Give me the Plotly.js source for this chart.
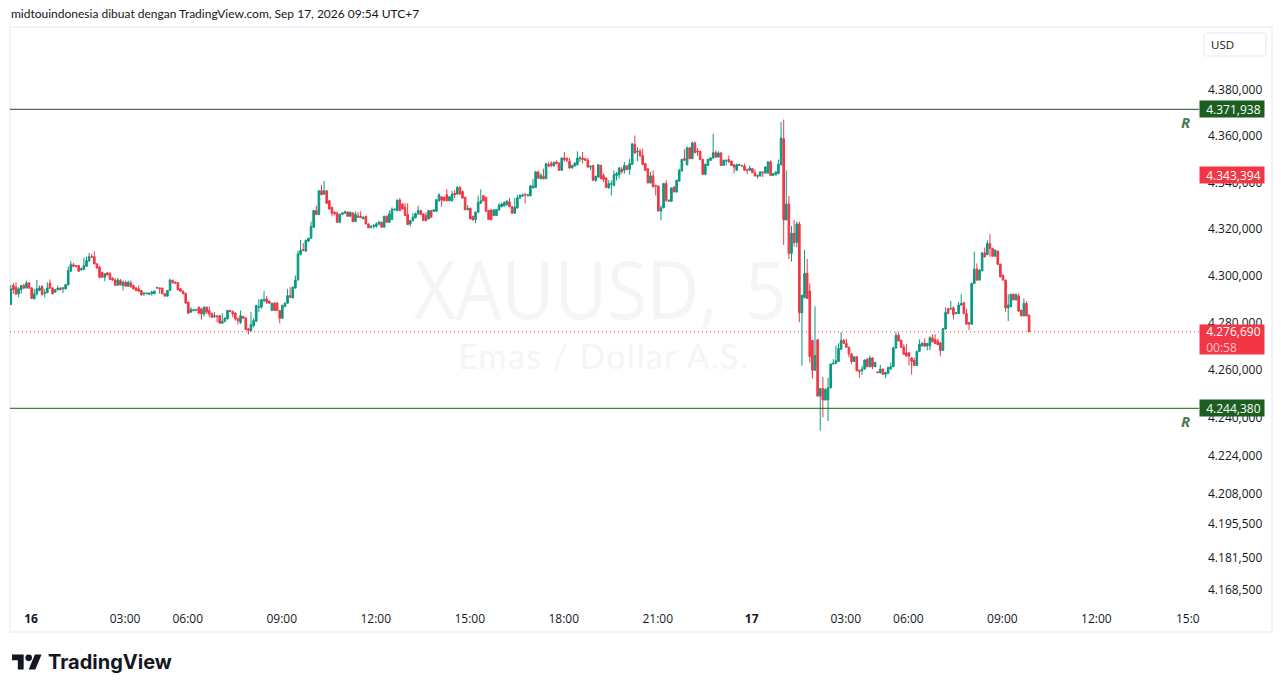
<!DOCTYPE html>
<html>
<head>
<meta charset="utf-8">
<script src="https://cdn.plot.ly/plotly-3.0.1.min.js"></script>
<style>
	html, body { margin: 0; padding: 0; background: #fff; overflow: hidden; }
	#frame { position: absolute; left: 9px; top: 26px; width: 1260px; height: 603px; border: 2px solid #f0f3fa; }
	#usdBox { position: absolute; left: 1203px; top: 32px; width: 62px; height: 23px; border: 1px solid #f0f3fa; border-radius: 4px; box-shadow: 0 0 0 1px #f0f3fa inset; }
	.mark { position: absolute; color: #f5f5f5; white-space: nowrap; transform-origin: left center; }
	#markSymbol { left: 414px; top: 233px; font-family: "Open Sans", sans-serif; font-size: 80px; line-height: 110px; word-spacing: 9px; transform: scaleX(0.905); }
	#markName { left: 458px; top: 333px; font-family: Lato, sans-serif; font-size: 34px; line-height: 46px; letter-spacing: 1.4px; }
	#logo { position: absolute; left: 12px; top: 654px; }
	#chart { position: absolute; left: 0; top: 0; width: 1281px; height: 692px; }
</style>
</head>
<body>
<div id="frame"></div>
<div id="usdBox"></div>
<div class="mark" id="markSymbol">XAUUSD, 5</div>
<div class="mark" id="markName">Emas / Dollar A.S.</div>
<svg id="logo" width="30" height="16" viewBox="0 4 36 18"><path fill="#131722" d="M14 22H7V11H0V4h14v18zM28 22h-8l7.5-18h8L28 22z"/><circle fill="#131722" cx="20" cy="8" r="4"/></svg>
<div id="chart"></div>
<script>
// XAUUSD 5 minute candles
var opens = [
4288.2,4296.3,4295.6,4292.8,4294.6,4296.3,4295.2,4297.4,4295.3,4290.8,
4292.8,4294.2,4296,4293,4293.3,4297.3,4295.3,4293.5,4294.5,4295.2,
4295,4294.9,4296.6,4302.4,4305.1,4304.8,4304.8,4303,4303.1,4304.5,
4306.7,4308.6,4308.6,4305.5,4304.1,4302,4299.8,4301.7,4301.3,4299.4,
4298.7,4296.4,4298.4,4296.3,4297.7,4296,4297.4,4296.3,4295.3,4294.9,
4294.2,4292.8,4292.8,4292.5,4292.8,4292.8,4295.2,4295.3,4295.2,4292.8,
4291.8,4294.2,4298.4,4297.7,4297.6,4294.9,4293.9,4293,4289.2,4285,
4285.7,4285.8,4287.1,4286.4,4284.2,4287.1,4285.7,4284.5,4283.1,4283.4,
4283.5,4280.3,4281.1,4282.1,4285.7,4285.2,4284.5,4282.1,4280.7,4283.1,
4282.5,4277.9,4277.2,4279.3,4281.1,4287.1,4287.1,4289.9,4290.6,4289.6,
4285.7,4288.8,4288.9,4285.7,4282.4,4287.4,4288.8,4292,4291,4295.3,4298.7,
4309.6,4311.6,4311,4315.2,4316.5,4321.2,4328.3,4326.6,4336.8,4335.4,
4336.8,4332.5,4329.7,4327.6,4327.2,4323.3,4326.7,4327.2,4327.7,4325.9,
4327.3,4323.6,4326,4325.9,4324.8,4325.9,4322.6,4321.2,4321.5,4321.6,
4322.6,4323.3,4321.2,4325.9,4323.3,4324.5,4328.6,4328.3,4332.8,4331.1,
4329.7,4326.6,4322.6,4324,4325.2,4326.9,4328.3,4326.9,4326.2,4324.7,
4328.3,4328,4328,4332.5,4334.2,4334,4335.1,4332.5,4332.5,4335.7,
4335.4,4338.2,4336.5,4334,4328.7,4329.3,4325.9,4324.5,4327.6,4331.5,
4334.7,4334,4328.3,4328.6,4326.2,4326.2,4328.6,4330,4330.4,4330.8,
4332.1,4330,4327.2,4329.4,4333.7,4334.5,4335.4,4334.7,4334.7,4338,
4338.2,4344.9,
4342,4343,4342,4348,4348.5,4347.5,4349.2,4348.7,4345.6,4350.9,
4350.6,4349.5,4346.6,4347.5,4348,4350.6,4350.9,4350.6,4349.9,4347,
4347.7,4341.3,4342.7,4347.7,4343.4,4342.3,4338.1,4339.6,4339.1,4343.4,
4343.7,4346,4345.6,4347.5,4346,4348.2,4356.8,4353.5,4353.8,4352,
4348.5,4346.3,4340.2,4343.2,4339.1,4338.8,4328.1,4329.5,4339.9,4332.4,
4332.3,4338.4,4336.3,4341,4345.3,4350.6,4348,4355.3,4350.6,4357.4,
4353.9,4353.8,4350.3,4343.9,4347.7,4349.9,4350.9,4353.2,4351.3,4353.1,
4347.7,4349.6,4350.3,4349.5,4348,4345.6,4347.7,4347.7,4347.5,4345.9,
4345.6,4346.3,4344.6,4343,4343.2,4344.9,4344.4,4344.4,4349.2,4343.4,
4343.7,4344.2,4348,
4359.2,4324.3,4331.1,4310,4318.6,4314.6,4322.6,4284.7,4291.2,4301.5,
4294,4273,4260.4,4273.3,4249.5,4252.7,4247.9,4247.9,4253,4263,
4263.3,4264.1,4269.3,4273,4271.8,4270.1,4267.3,4264.1,4266.1,4260.4,
4260.2,4260.9,4265.1,4261.9,4265.6,4261.9,4259.7,4259.4,4260.9,4258.7,
4259,4260.9,4261.9,4269.8,
4275.2,4273.1,4270.2,4267.7,4267.8,4265.6,4264.6,4262.4,4268.4,4270.7,
4271.9,4270.7,4270.7,4274.1,4273.4,4272.7,4271.9,4268.8,4277.8,4286.5,
4286.3,4286.8,4284.4,4284.4,4288,4289,4284.4,4280.6,4279.9,4297.2,
4303.3,4298.6,4302.6,4310.2,4309.5,4314.2,4312.1,4308.8,4310.9,4305.4,
4300.7,4298.6,4286.8,4287.3,4292.6,4290.2,4291.8,4285.8,4283.4,4288.7,
4283.7];
var highs = [
4296.6,4297.4,4297.7,4295.6,4296.6,4297,4298.4,4297.7,4295.6,4294.9,
4298.7,4296.3,4296.3,4294.9,4297.7,4298.9,4295.6,4294.9,4296.3,4295.6,
4295.6,4297,4304.4,4306.7,4305.9,4305.1,4304.8,4304,4308.1,4308.6,
4310.2,4309.8,4310.8,4305.9,4304.8,4302,4301.6,4302,4302,4299.8,
4299.4,4299.6,4299.1,4298.4,4298.4,4298.4,4298.4,4296.6,4295.6,4296.3,
4294.2,4293.5,4293.3,4293.5,4294.2,4294.2,4295.6,4295.4,4295.4,4293,
4294.2,4298.9,4298.9,4298.1,4297.6,4295.2,4294.2,4293.2,4289.4,4287.1,
4286.4,4286.3,4287.4,4286.6,4287.4,4287.4,4287.4,4284.8,4285,4283.7,
4283.7,4284.5,4282.8,4286,4286,4285.7,4285,4282.8,4285.7,4283.5,
4283,4278.2,4285,4282.5,4288.1,4290.6,4290.6,4293.9,4291.8,4290,
4288.8,4289.2,4289.2,4285.9,4288.2,4289.2,4294.9,4295.6,4295.9,4300.6,4311.2,
4315.8,4314.4,4316,4316.6,4323.6,4328.6,4330.4,4337,4339.3,4341,
4337,4332.8,4329.9,4327.9,4328,4327,4327.6,4328.3,4327.9,4327.9,
4327.6,4328,4327.6,4328,4325.9,4326,4322.9,4321.8,4322.6,4323.3,
4324,4323.6,4326,4326.2,4328.3,4329.7,4329.2,4333.1,4333.7,4331.4,
4331.4,4331.5,4324.4,4327.3,4327.5,4330.4,4328.6,4327,4327.6,4328.6,
4328.6,4329,4333.3,4335.7,4334.4,4334.3,4337.5,4334.6,4336.8,4337.1,
4338.9,4338.9,4337,4334.2,4330.7,4329.6,4326,4327.9,4334.7,4337.5,
4335.1,4334.2,4328.6,4328.9,4329,4329,4331.4,4331.7,4332.3,4332.8,
4333.7,4330.3,4333.7,4335.1,4335.4,4335.6,4335.6,4335.4,4339.3,4341.8,
4345.3,4345.5,
4344.2,4346.3,4348.7,4349.2,4349.5,4349.5,4349.8,4349,4351.2,4353.5,
4351.3,4350.9,4348,4349,4353.8,4351.7,4353.5,4350.9,4350.9,4347.7,
4348,4343.3,4348.2,4348,4344.2,4342.6,4341.3,4341.3,4345.6,4344.9,
4347,4347,4349.2,4347.7,4350.6,4357.3,4360.6,4355.6,4354.9,4354.9,
4348.7,4346.5,4344.9,4345.6,4339.4,4339,4330.5,4340.2,4341.3,4333,
4338.2,4338.7,4341.6,4346.3,4350.5,4354.6,4356,4355.6,4358.1,4358.1,
4355.3,4354.1,4350.6,4348.5,4350.6,4351.3,4361.4,4354.2,4353.8,4353.4,
4350.2,4350.2,4352,4349.7,4348.2,4348.5,4348.5,4348,4348.5,4346.1,
4347.7,4346.5,4345.9,4343.7,4345.2,4345.1,4347.3,4349.5,4349.9,4344.5,
4345.2,4350.2,4366.4,
4367.5,4345.6,4334.5,4321.7,4324.3,4323.6,4323.6,4292.2,4311.5,4307.6,
4297.2,4273.2,4287.5,4273.5,4253,4257.6,4252.8,4257.3,4263.3,4265.1,
4270.8,4271.8,4276.5,4273.7,4273.7,4270.4,4267.5,4266.4,4266.3,4260.6,
4262.3,4265,4265.4,4266.6,4265.8,4264,4259.9,4262.7,4261.1,4259.7,
4261.9,4263.7,4270.4,4276.5,
4276.3,4273.3,4271.4,4271.4,4268,4266,4265.7,4268.6,4273.4,4272.4,
4273.8,4272,4274.8,4275.6,4275.6,4273.8,4272.4,4278.2,4287,4286.8,
4289.7,4287.5,4285,4289.4,4292.6,4289.4,4286.5,4280.8,4297.5,4310.7,
4305.7,4303.1,4310.7,4312.5,4315.6,4318.2,4312.4,4311.6,4311.2,4305.6,
4300.9,4298.8,4292.6,4292.8,4292.8,4292.9,4292.9,4286,4290.8,4289.7,
4284];
var lows = [
4288.2,4292.8,4292.5,4291.3,4292.8,4294.9,4295.2,4294.9,4290.6,4290.3,
4292,4293.9,4292,4291.3,4293,4294.9,4292.5,4293.2,4294.2,4294.2,
4293,4294.6,4296.3,4302.3,4304.1,4304.1,4302,4302.5,4303.1,4304.4,
4306.6,4308.1,4305.5,4303.4,4299.4,4299.6,4298.1,4300.6,4298.9,4298.4,
4296.3,4296.3,4296.3,4294.2,4295.9,4295.7,4295.3,4294.6,4293.9,4293.5,
4292,4291.8,4292.5,4292.2,4292,4292.8,4295,4292.8,4292.5,4291.6,
4291.6,4294.2,4297,4297,4294.2,4293.6,4292.6,4288.5,4284.2,4284.7,
4285.4,4285.5,4284.5,4281.8,4283.1,4284.2,4282.8,4282.5,4282.5,4280.7,
4280.3,4280,4280.7,4282,4285,4282.8,4281.4,4279.7,4280,4282.1,
4277.6,4275.5,4276.7,4278.6,4281,4285,4286.4,4289.2,4288.5,4288.5,
4285.7,4285.7,4285.7,4280.3,4282.2,4287.1,4288.5,4290.9,4290.9,4294.9,4298.4,
4309.1,4311,4310.6,4314.9,4316.2,4321,4326.6,4326.6,4335.1,4335.1,
4331.1,4328.6,4325.8,4326.2,4323,4322.9,4326.4,4326.9,4325.6,4325.5,
4323.3,4323.5,4325.3,4325.2,4324.6,4322.4,4320.9,4320.6,4320.6,4320.9,
4321.9,4321,4321,4323.3,4323,4324.4,4328.4,4328,4328,4328.7,
4326,4322.3,4321.5,4323.7,4325,4326.6,4326.4,4323.9,4323.7,4324.5,
4325.2,4327.7,4327.7,4332.2,4330,4332.3,4332.3,4332.3,4332.2,4333.7,
4335.1,4335.1,4333.4,4328.4,4328.3,4324.7,4324,4322.9,4327.3,4331.3,
4332.3,4327.9,4324.3,4324,4325.9,4326,4328.3,4329.7,4330,4330.5,
4329.7,4327,4327,4329.1,4333.4,4334.2,4331.4,4334.4,4334.4,4337.9,
4338,4342,
4341.7,4341.7,4341.7,4347,4347,4347.2,4348.2,4345.4,4345.4,4349.2,
4349.2,4346.3,4346.4,4347.2,4347.7,4349.2,4348.5,4349.7,4346.7,4345.6,
4341,4340.6,4342.5,4341.8,4340.6,4338,4337.7,4334.8,4338.8,4341.3,
4342,4344.2,4344.2,4345.8,4343.7,4348,4353,4349.5,4351.5,4347.7,
4345.3,4340,4339.9,4338.4,4334.8,4327.9,4324.1,4329.3,4332,4332,
4332,4336.1,4336,4340.6,4345.1,4349.7,4347.7,4350.4,4350.4,4353,
4351.8,4350,4343.7,4343.4,4347.5,4349.6,4350.6,4351,4351,4347.5,
4347.5,4347.7,4349,4347.5,4344.4,4345.4,4347.5,4347.2,4345.4,4343.9,
4345.4,4344.4,4343,4342,4342.9,4342.7,4344.2,4344.2,4343.2,4343.1,
4343.4,4343.9,4347.7,
4313.6,4324.3,4307.6,4306.5,4312.9,4312.6,4280.7,4262.3,4290.8,4290.6,
4263.7,4256.9,4260.1,4249.3,4235,4240.5,4247.6,4239,4252.8,4262.8,
4263,4263.9,4269,4271.6,4269.9,4265.9,4263,4263.9,4260,4257.3,
4258.4,4260.7,4261.7,4261.6,4260.9,4261.7,4259.2,4259,4258.5,4257.3,
4258.8,4260.7,4261.7,4269.4,
4272.6,4269.8,4266.9,4266.2,4262.4,4258.6,4262.2,4262.2,4268.2,4270.5,
4270.3,4268.8,4268.8,4272.2,4271.5,4271,4266.3,4268.6,4277.6,4284.2,
4286,4281.9,4284.2,4284.2,4287.8,4284.2,4279.7,4277.3,4279.7,4296.9,
4298.4,4298.4,4302.4,4308.3,4309.2,4308.5,4308.6,4308.6,4305.1,4299.8,
4298.4,4285.1,4281.2,4287.1,4290,4290,4285.2,4283.2,4283.2,4283.2,
4276.69];
var closes = [
4294.9,4294.6,4292.6,4294.9,4296.3,4295.2,4297.4,4295.2,4290.8,4292.8,
4294.9,4295.3,4292.5,4293.3,4295.3,4295.2,4292.8,4294.5,4295.2,4294.6,
4295.3,4296.6,4302.7,4305.2,4304.5,4304.4,4302.4,4303.4,4304.8,4306.9,
4308.6,4308.4,4305.5,4303.8,4299.8,4299.8,4301.3,4300.8,4298.9,4298.6,
4296.4,4298.7,4296.6,4297.7,4296,4297.7,4295.9,4294.9,4294.2,4293.9,
4292.3,4293,4293,4293,4293.5,4293.9,4295.5,4295,4292.8,4291.8,
4294.2,4298.7,4297.6,4297.4,4294.5,4293.9,4292.8,4288.8,4284.5,4286.1,
4286,4286,4284.5,4284.2,4287.1,4285,4284.2,4282.8,4283.5,4283.1,
4280.3,4281.1,4282.4,4285.7,4285.2,4284.2,4282.1,4281.4,4283.5,4282.4,
4277.6,4277.2,4279.7,4281.4,4287.8,4287.4,4290.2,4290.4,4289.2,4288.8,
4288.8,4285.7,4285.7,4282.4,4287.8,4288.8,4292,4291.3,4295.6,4298.7,4309.8,
4311.3,4311.2,4315.5,4316.5,4321.5,4328.3,4326.6,4336.8,4335.1,4336.8,
4331.4,4329,4327.2,4326.9,4323.3,4326.6,4327.3,4327.7,4325.9,4327.6,
4323.6,4326.7,4325.5,4325.3,4325.4,4322.6,4320.9,4321.6,4321.8,4322.6,
4323.3,4321.2,4325.9,4323.3,4326.9,4328.9,4328.9,4332.8,4328.3,4329,
4326.2,4322.3,4324,4325.5,4326.9,4328.3,4326.6,4324,4324,4328.3,
4325.5,4328.6,4333,4335.1,4332.8,4332.5,4332.5,4334.2,4335.4,4335.1,
4338.2,4335.4,4333.7,4328.7,4329.3,4324.7,4324.3,4327.6,4331.8,4332.5,
4332.5,4328,4324.5,4324.5,4328.6,4328.7,4330.7,4331.1,4331.8,4332.3,
4330,4327.2,4329.7,4333.7,4334.7,4335,4335.1,4335.1,4338.9,4338.9,
4344.9,4342.2,
4343.4,4342,4348.5,4347.5,4347.7,4348.9,4348.5,4345.6,4350.9,4350.3,
4349.9,4346.6,4347.7,4348.7,4350.9,4350.9,4350.3,4349.9,4347,4347.3,
4341.3,4343,4348,4342,4341.7,4338.1,4339.8,4339.8,4343.7,4344.2,
4346.6,4344.9,4347.7,4346,4348.5,4357,4353,4353.8,4351.8,4348.2,
4345.6,4340.2,4343.2,4338.4,4338.8,4328.1,4329.5,4339.9,4332.7,4332.7,
4338,4336.3,4341.3,4345.6,4350.3,4349.9,4355.2,4350.6,4357.4,4353.2,
4353.5,4350.2,4343.9,4348.2,4350.3,4350.9,4353.2,4351.3,4353.1,4347.7,
4349.9,4349.9,4349.2,4347.7,4347,4348,4348,4347.5,4345.6,4345.6,
4346.6,4344.6,4343.2,4343.4,4344.9,4344.6,4347,4349.2,4343.4,4344.2,
4344.9,4348.2,4359.5,
4324.3,4331.1,4310,4318.6,4314.6,4322.6,4284.7,4292.2,4301.5,4290.8,
4266.1,4260.4,4266.6,4249.5,4252.7,4247.9,4252.3,4253,4263,4263.3,
4264.4,4269.6,4273,4271.8,4270.1,4267.3,4264.1,4266.1,4260.2,4259.9,
4260.9,4264.7,4261.9,4265.6,4261.9,4263.7,4259.4,4260.9,4258.7,4259.4,
4261.6,4261.9,4269.8,4275.1,
4272.8,4270,4267.1,4266.4,4266.4,4264.1,4262.4,4268.4,4271.4,4271.7,
4270.5,4271.7,4274.1,4272.4,4271.7,4271.2,4268.8,4278,4284.8,4284.4,
4286.5,4284,4284.7,4288,4288.7,4284.4,4279.9,4279.9,4297.2,4303.3,
4298.6,4302.9,4310.2,4308.5,4314.2,4312.1,4308.8,4311.4,4305.3,4300,
4298.6,4286.8,4288,4292.6,4290.2,4292.5,4285.4,4283.4,4288.7,4283.4,
4276.69];

// bar numbers: 16 falls on bar 0
var barIndex = opens.map(function(o, n){ return n - 7; });
var xTickBars = [0,36,60,96,132,168,204,240,276,312,336,372,408,443];
var xTickLabels = ['<b>16</b>','03:00','06:00','09:00','12:00','15:00','18:00','21:00','<b>17</b>','03:00','06:00','09:00','12:00','15:0'];
var priceTicks = [4380,4360,4340,4320,4300,4280,4260,4240,4224,4208,4195.5,4181.5,4168.5];
var priceLabels = ['4.380,000','4.360,000','4.340,000','4.320,000','4.300,000','4.280,000','4.260,000','4.240,000','4.224,000','4.208,000','4.195,500','4.181,500','4.168,500'];

var resistanceTop = 4371.938;
var resistanceBottom = 4244.380;
var prevClose = 4343.394;
var lastPrice = 4276.690;

var UP = '#089981', DOWN = '#f23645', LEVEL = '#1b5e20';
var FONT = '"Open Sans", sans-serif';

function badge(price, text, color, h){
	return {
		xref:'paper', x:1, xanchor:'left',
		yref:'y', y:Math.log10(price), yanchor:'middle',
		text:'\u00a0\u00a0' + text, showarrow:false, width:64, height:h, align:'left',
		bgcolor:color, borderpad:0,
		font:{family:FONT, size:12, color:'#fff'}
	};
}

var data = [{
	type:'candlestick',
	x:barIndex, open:opens, high:highs, low:lows, close:closes,
	whiskerwidth:0,
	increasing:{line:{color:UP, width:1}, fillcolor:UP},
	decreasing:{line:{color:DOWN, width:1}, fillcolor:DOWN},
	hoverinfo:'skip'
}];

var lastBadge = badge(lastPrice, '4.276,690<br>\u00a0\u00a0<span style="color:#fbc5ca">00:58</span>', DOWN, 29);
lastBadge.yanchor = 'top';
lastBadge.yshift = 8;

var layout = {
	width:1281, height:692,
	margin:{l:10, r:82, t:27, b:87, pad:0},
	paper_bgcolor:'rgba(0,0,0,0)', plot_bgcolor:'rgba(0,0,0,0)',
	showlegend:false, dragmode:false, boxgap:0.12,
	font:{family:FONT, size:12, color:'#131722'},
	xaxis:{
		type:'linear', range:[-7.3, 448.06],
		rangeslider:{visible:false},
		tickmode:'array', tickvals:xTickBars, ticktext:xTickLabels,
		showgrid:false, zeroline:false, showline:false, ticks:'',
		ticklabelstandoff:5, ticklabelshift:2, tickfont:{family:FONT, size:12, color:'#131722'}
	},
	yaxis:{
		type:'log', side:'right', range:[3.619354, 3.644214],
		tickmode:'array', tickvals:priceTicks, ticktext:priceLabels,
		showgrid:false, zeroline:false, showline:false, ticks:'',
		ticklabelstandoff:8, ticklabelshift:-1, tickfont:{family:FONT, size:12, color:'#131722'}
	},
	shapes:[
		{type:'line', xref:'paper', x0:0, x1:1, yref:'y', y0:resistanceTop, y1:resistanceTop, line:{color:'#2a4a2c', width:1}},
		{type:'line', xref:'paper', x0:0, x1:1, yref:'y', y0:resistanceBottom, y1:resistanceBottom, line:{color:LEVEL, width:1}},
		{type:'line', xref:'paper', x0:0, x1:1, yref:'y', y0:lastPrice, y1:lastPrice, line:{color:DOWN, width:1, dash:'1px,3px'}}
	],
	annotations:[
		{xref:'paper', yref:'paper', x:-1/1189, y:1 + 13/578, xanchor:'left', yanchor:'middle', showarrow:false,
			text:'midtouindonesia dibuat dengan TradingView.com, Sep 17, 2026 09:54 UTC+7', font:{family:'Lato, sans-serif', size:12, color:'#131722'}},
		{xref:'paper', yref:'paper', x:36/1189, y:-57/578, xanchor:'left', yanchor:'middle', showarrow:false,
			text:'<b>TradingView</b>', font:{family:'Inter, sans-serif', size:20, color:'#131722'}},
		{xref:'paper', yref:'paper', x:1 + 10/1189, y:1 - 17/578, xanchor:'left', yanchor:'middle', showarrow:false,
			text:'USD', font:{family:FONT, size:11.5, color:'#131722'}},
		{xref:'paper', x:1175/1189, xanchor:'center', yref:'y', y:Math.log10(resistanceTop), yshift:-13, showarrow:false,
			text:'<b><i>R</i></b>', font:{family:FONT, size:15, color:'#4a7d50'}},
		{xref:'paper', x:1175/1189, xanchor:'center', yref:'y', y:Math.log10(resistanceBottom), yshift:-13, showarrow:false,
			text:'<b><i>R</i></b>', font:{family:FONT, size:15, color:'#4a7d50'}},
		badge(resistanceTop, '4.371,938', LEVEL, 16),
		badge(resistanceBottom, '4.244,380', LEVEL, 16),
		badge(prevClose, '4.343,394', DOWN, 16),
		lastBadge
	]
};

Plotly.newPlot('chart', data, layout, {displayModeBar:false, staticPlot:true});
</script>
</body>
</html>
